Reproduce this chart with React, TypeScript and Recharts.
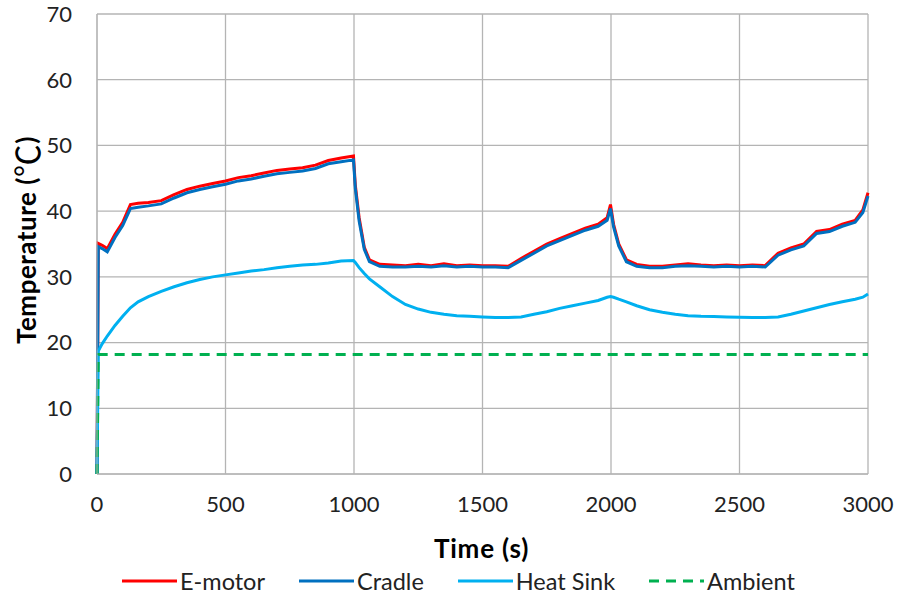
import { LineChart, Line, XAxis, YAxis, CartesianGrid, Legend } from 'recharts'

const times = [
  0, 5, 20, 40, 70, 100, 130, 160, 200, 250, 300, 350, 400, 450, 500, 550, 600, 650, 700, 750, 800, 850, 900, 950, 998,
  1005, 1020, 1040, 1060, 1100, 1150, 1200, 1250, 1300, 1350, 1400, 1450, 1500, 1550, 1600, 1650, 1700, 1750, 1800, 1850, 1900, 1950, 1985, 1998,
  2010, 2030, 2060, 2100, 2150, 2200, 2250, 2300, 2350, 2400, 2450, 2500, 2550, 2600, 2650, 2700, 2750, 2800, 2850, 2900, 2950, 2980, 3000,
]

const eMotor = [
  0, 35.1, 34.8, 34.3, 36.5, 38.3, 41.0, 41.2, 41.3, 41.6, 42.5, 43.3, 43.8, 44.2, 44.6, 45.1, 45.4, 45.8, 46.2, 46.4, 46.6, 47.0, 47.7, 48.1, 48.4,
  44.0, 39.0, 34.5, 32.6, 31.9, 31.8, 31.7, 31.9, 31.7, 32.0, 31.7, 31.8, 31.7, 31.7, 31.6, 32.8, 33.9, 35.0, 35.8, 36.6, 37.4, 38.0, 39.0, 41.0,
  38.0, 35.0, 32.6, 31.9, 31.6, 31.6, 31.8, 32.0, 31.8, 31.7, 31.8, 31.7, 31.8, 31.7, 33.6, 34.4, 35.0, 36.9, 37.2, 38.0, 38.6, 40.2, 42.8,
]

const cradle = [
  0, 34.6, 34.3, 33.8, 36.0, 37.8, 40.4, 40.6, 40.8, 41.1, 42.0, 42.8, 43.3, 43.7, 44.1, 44.6, 44.9, 45.3, 45.7, 45.9, 46.1, 46.5, 47.2, 47.5, 47.8,
  43.5, 38.5, 34.2, 32.3, 31.6, 31.5, 31.5, 31.6, 31.5, 31.7, 31.5, 31.6, 31.5, 31.5, 31.4, 32.5, 33.6, 34.7, 35.5, 36.3, 37.1, 37.7, 38.6, 40.4,
  37.6, 34.7, 32.3, 31.6, 31.4, 31.4, 31.6, 31.7, 31.6, 31.5, 31.6, 31.5, 31.6, 31.5, 33.3, 34.1, 34.7, 36.6, 36.9, 37.7, 38.3, 39.8, 42.3,
]

const heatSink = [
  0, 18.7, 19.8, 21.0, 22.6, 24.0, 25.3, 26.2, 27.0, 27.8, 28.5, 29.1, 29.6, 30.0, 30.3, 30.6, 30.9, 31.1, 31.4, 31.6, 31.8, 31.9, 32.1, 32.4, 32.5,
  32.2, 31.4, 30.5, 29.7, 28.5, 27.0, 25.8, 25.1, 24.6, 24.3, 24.1, 24.0, 23.9, 23.8, 23.8, 23.9, 24.3, 24.7, 25.2, 25.6, 26.0, 26.4, 26.9, 27.0,
  26.9, 26.6, 26.2, 25.6, 25.0, 24.6, 24.3, 24.1, 24.0, 23.95, 23.9, 23.85, 23.8, 23.8, 23.9, 24.3, 24.8, 25.3, 25.8, 26.2, 26.6, 26.9, 27.4,
]

const ambientLevel = 18.2

const xTicks = [0, 500, 1000, 1500, 2000, 2500, 3000]
const yTicks = [0, 10, 20, 30, 40, 50, 60, 70]

const series = [
  { key: 'eMotor', name: 'E-motor', color: '#ff0000', dash: undefined },
  { key: 'cradle', name: 'Cradle', color: '#0070c0', dash: undefined },
  { key: 'heatSink', name: 'Heat Sink', color: '#00b0f0', dash: undefined },
  { key: 'ambient', name: 'Ambient', color: '#00b050', dash: '10 7' },
]

const data = times.map((t, i) => ({
  t,
  eMotor: eMotor[i],
  cradle: cradle[i],
  heatSink: heatSink[i],
  ambient: t === 0 ? 0 : ambientLevel,
}))

const font = 'Lato, "Open Sans", sans-serif'

function ChartLegend() {
  return (
    <div style={{ display: 'flex', paddingLeft: 122, fontFamily: font, fontSize: 23.5, color: '#222', height: 26, alignItems: 'center' }}>
      {series.map((s) => (
        <div key={s.key} style={{ display: 'flex', alignItems: 'center', marginRight: 34 }}>
          <svg width={55} height={6}>
            <line x1={0} y1={3} x2={55} y2={3} stroke={s.color} strokeWidth={3} strokeDasharray={s.dash} />
          </svg>
          <span style={{ marginLeft: 3 }}>{s.name}</span>
        </div>
      ))}
    </div>
  )
}

export default function App() {
  return (
    <div style={{ position: 'absolute', left: 0, top: 0, fontFamily: font }}>
      <LineChart width={898} height={596} data={data} margin={{ top: 14, right: 30, left: 0, bottom: 2 }}>
        <CartesianGrid stroke="#b4b4b4" strokeWidth={1.3} />
        <XAxis
          dataKey="t"
          type="number"
          domain={[0, 3000]}
          ticks={xTicks}
          height={94}
          tickLine={false}
          tickSize={0}
          tickMargin={22}
          stroke="#b4b4b4"
          tick={{ fill: '#222', fontSize: 22, fontFamily: font }}
          label={{
            content: (p: any) => (
              <text
                x={p.viewBox.x + p.viewBox.width / 2 - 1}
                y={p.viewBox.y + 84}
                textAnchor="middle"
                fontFamily={font}
                fontWeight="bold"
                fontSize={26}
                letterSpacing={0.8}
                fill="#000"
              >
                Time (s)
              </text>
            ),
          }}
        />
        <YAxis
          type="number"
          domain={[0, 70]}
          ticks={yTicks}
          width={97}
          tickLine={false}
          tickSize={0}
          tickMargin={25}
          stroke="#b4b4b4"
          tick={{ fill: '#222', fontSize: 22, fontFamily: font }}
          label={{
            content: () => {
              const cx = 26
              const cy = 240
              return (
                <text
                  x={cx}
                  y={cy}
                  transform={`rotate(-90 ${cx} ${cy})`}
                  textAnchor="middle"
                  dominantBaseline="central"
                  fontFamily={font}
                  fontWeight="bold"
                  fontSize={26}
                  letterSpacing={0.5}
                  fill="#000"
                >
                  Temperature (
                  <tspan fontFamily='"Noto Sans CJK JP", "DejaVu Sans"' fontWeight="normal" fontSize={33}>
                    ℃
                  </tspan>
                  )
                </text>
              )
            },
          }}
        />
        <Legend verticalAlign="bottom" height={26} wrapperStyle={{ left: 0, width: 898 }} content={() => <ChartLegend />} />
        {series.map((s) => (
          <Line
            key={s.key}
            dataKey={s.key}
            name={s.name}
            stroke={s.color}
            strokeWidth={3}
            strokeDasharray={s.dash}
            dot={false}
            type="linear"
            isAnimationActive={false}
          />
        ))}
      </LineChart>
    </div>
  )
}
